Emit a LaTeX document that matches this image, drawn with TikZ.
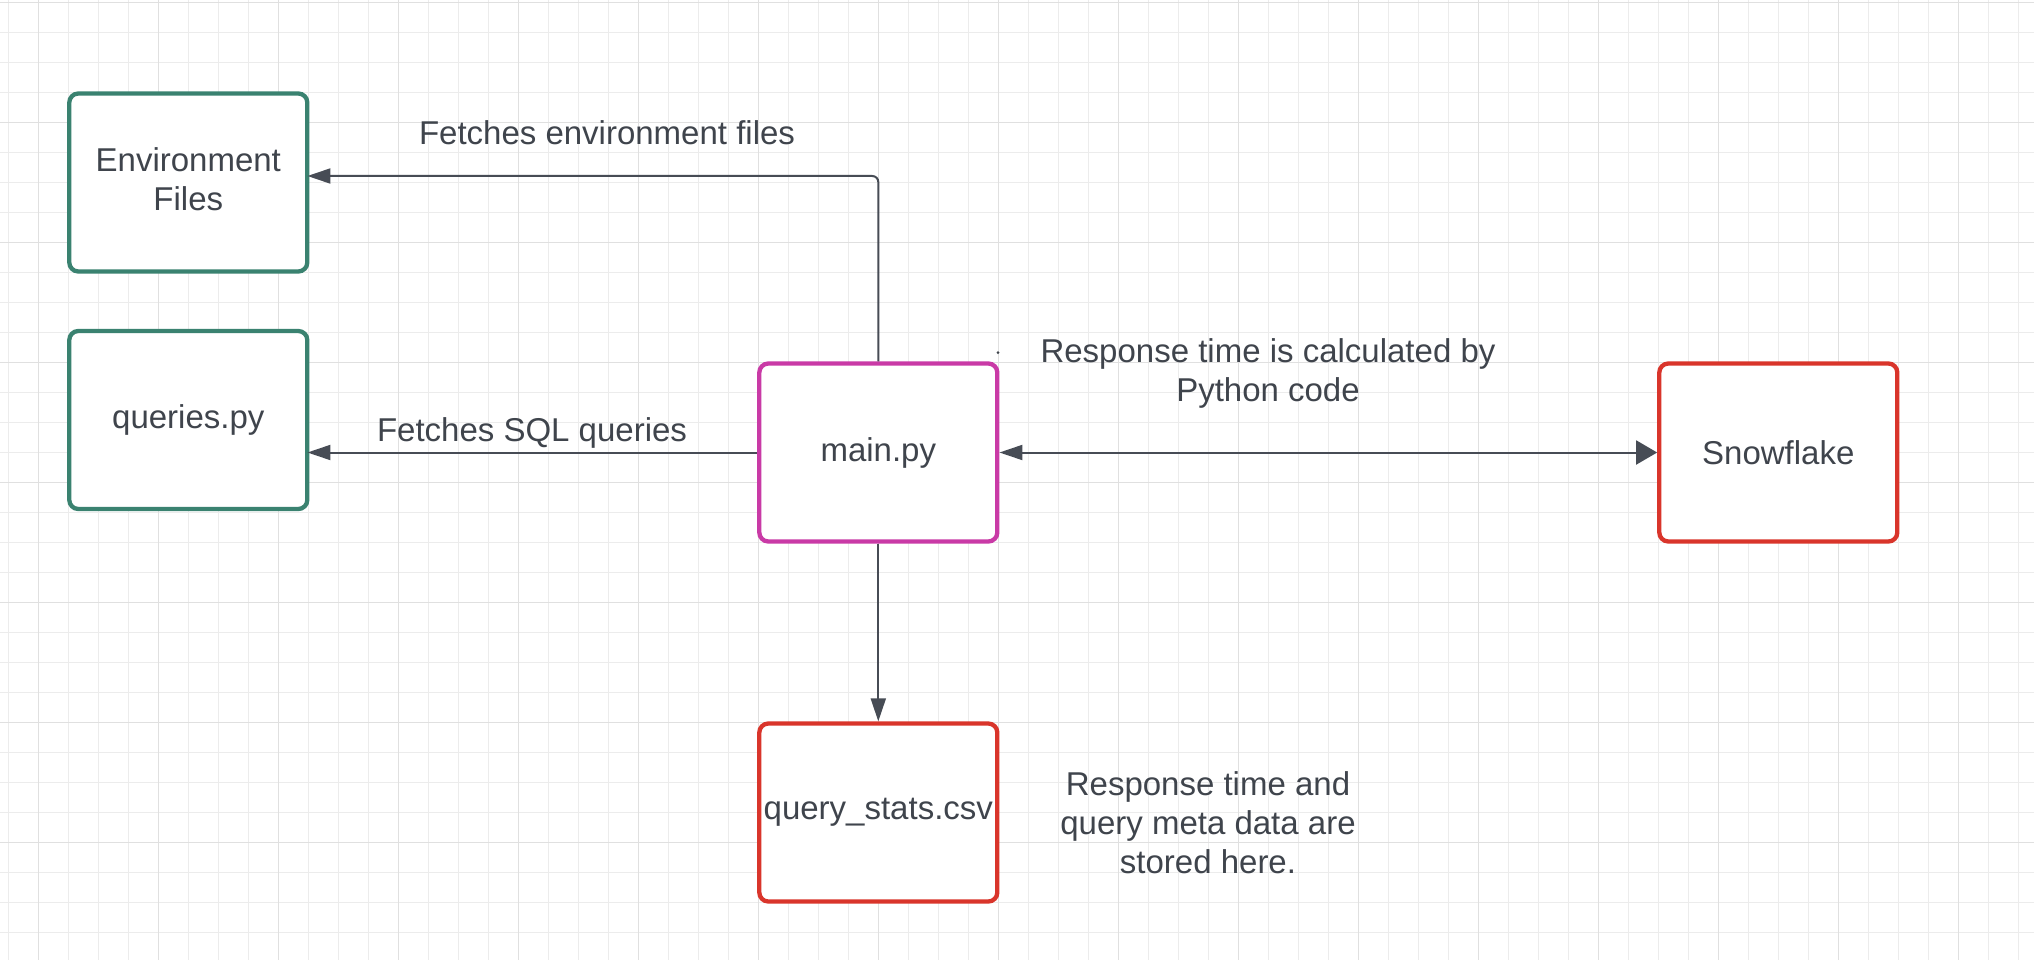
\documentclass[tikz,border=0pt]{standalone}
\usepackage{fontspec}
\setmainfont{Liberation Sans}
\usetikzlibrary{arrows.meta}
\definecolor{txtc}{HTML}{3F444C}
\definecolor{linec}{HTML}{474C55}
\definecolor{grnc}{HTML}{3A8270}
\definecolor{magc}{HTML}{C93AA6}
\definecolor{redc}{HTML}{D9352B}
\definecolor{gridmin}{HTML}{ECECEC}
\definecolor{gridmaj}{HTML}{E0E0E0}
\tikzset{>={Triangle[length=23pt,width=15pt]}}

\begin{document}
\begin{tikzpicture}[x=1pt,y=-1pt,
  font=\fontsize{33}{39}\selectfont, text=txtc,
  box/.style={draw, line width=4.3pt, rounded corners=9pt, fill=white,
    minimum width=238pt, minimum height=178pt, align=center, inner sep=0pt},
  conn/.style={draw=linec, line width=2pt},
  lbl/.style={align=center, inner sep=0pt}]
\useasboundingbox (0,0) rectangle (2034,960);
\fill[white] (0,0) rectangle (2034,960);
\foreach \x in {8.3,38.3,...,2034} \draw[gridmin,line width=1.4pt] (\x,0) -- (\x,960);
\foreach \y in {2.5,32.5,...,960} \draw[gridmin,line width=1.4pt] (0,\y) -- (2034,\y);
\foreach \x in {38.3,158.3,...,2034} \draw[gridmaj,line width=1.5pt] (\x,0) -- (\x,960);
\foreach \y in {2.5,122.5,...,960} \draw[gridmaj,line width=1.5pt] (0,\y) -- (2034,\y);

\node[box,draw=grnc] (env) at (188.3,182.5) {Environment\\Files\vphantom{p}};
\node[box,draw=grnc] (queries) at (188.3,420) {queries.py};
\node[box,draw=magc] (main) at (878.3,452.5) {main.py};
\node[box,draw=redc] (snow) at (1778.3,452.5) {Snowflake};
\node[box,draw=redc] (stats) at (878.3,812.5) {query\_stats.csv};

\draw[conn,->,rounded corners=6pt,shorten >=-2pt] (main.north) |- ([yshift=6.5pt]env.east);
\draw[conn,->,shorten >=-2pt] (main.west) -- (main.west -| queries.east);
\draw[conn,{Triangle[length=23pt,width=15pt]}-{Triangle[length=21pt,width=24pt]}] (main.east) -- (snow.west);
\draw[conn,->] (main.south) -- (stats.north);

\node[lbl] (lenv) at (607,133) {Fetches environment files};
\node[lbl] (lsql) at (532,433) {Fetches SQL queries};
\node[lbl] (lresp) at (1268,373) {Response time is calculated by\\Python code};
\node[lbl] (lstore) at (1208,823) {Response time and\\query meta data are\\stored here.};
\fill[txtc] (998,352.7) circle (1.5);
\end{tikzpicture}
\end{document}
